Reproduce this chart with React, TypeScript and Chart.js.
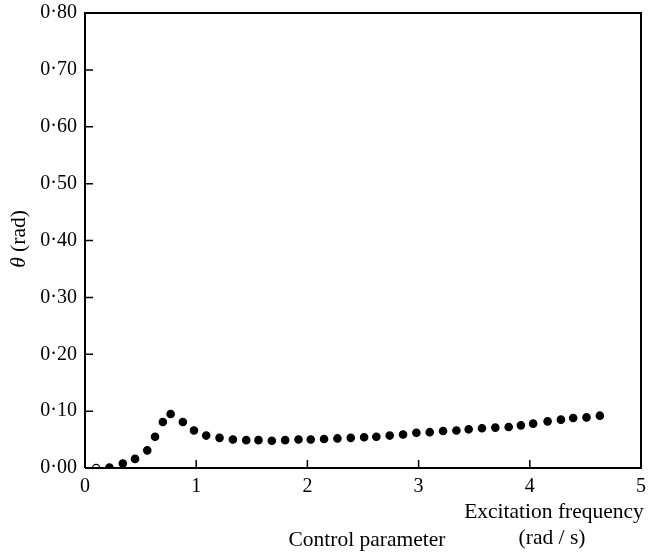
import React, { useEffect, useRef } from "react";
import { Chart, registerables } from "chart.js";

Chart.register(...registerables);

const frequency: number[] = [
  0.10, 0.22, 0.34, 0.45, 0.56, 0.63, 0.70, 0.77, 0.88, 0.98, 1.09, 1.21, 1.33, 1.45,
  1.56, 1.68, 1.80, 1.92, 2.03, 2.15, 2.27, 2.39, 2.51, 2.62, 2.74, 2.86, 2.98, 3.10,
  3.22, 3.34, 3.45, 3.57, 3.69, 3.81, 3.92, 4.03, 4.16, 4.28, 4.39, 4.51, 4.63,
];
const theta: number[] = [
  0.000, 0.001, 0.008, 0.016, 0.031, 0.055, 0.081, 0.095, 0.081, 0.066, 0.057, 0.053,
  0.050, 0.049, 0.049, 0.048, 0.049, 0.050, 0.050, 0.051, 0.052, 0.053, 0.054, 0.055,
  0.057, 0.059, 0.062, 0.063, 0.065, 0.066, 0.068, 0.070, 0.071, 0.072, 0.075, 0.078,
  0.082, 0.085, 0.088, 0.089, 0.092,
];
const xTicks: number[] = [0, 1, 2, 3, 4, 5];
const yTicks: number[] = [0, 0.1, 0.2, 0.3, 0.4, 0.5, 0.6, 0.7, 0.8];
const yAxisTitleItalic = "θ";
const yAxisTitleRest = " (rad)";
const xAxisTitle = "Control parameter";
const xNoteLine1 = "Excitation frequency";
const xNoteLine2 = "(rad / s)";

const FONT = "'Liberation Serif', 'Times New Roman', serif";

const decorPlugin = {
  id: "decor",
  afterDraw(chart: any) {
    const { ctx, chartArea, scales } = chart;
    const { left, right, top, bottom } = chartArea;
    ctx.save();
    ctx.strokeStyle = "#000";
    ctx.lineWidth = 2;
    ctx.beginPath();
    ctx.moveTo(left, bottom);
    ctx.lineTo(left, top);
    ctx.lineTo(right, top);
    ctx.lineTo(right, bottom);
    ctx.lineTo(left, bottom);
    ctx.stroke();
    ctx.lineWidth = 1.5;
    ctx.beginPath();
    yTicks.forEach((v) => {
      const y = scales.y.getPixelForValue(v);
      ctx.moveTo(left, y);
      ctx.lineTo(left + 8, y);
    });
    xTicks.forEach((v) => {
      const x = scales.x.getPixelForValue(v);
      ctx.moveTo(x, bottom);
      ctx.lineTo(x, bottom - 8);
    });
    ctx.stroke();
    ctx.fillStyle = "#000";
    ctx.translate(19, 239);
    ctx.rotate(-Math.PI / 2);
    ctx.textBaseline = "middle";
    ctx.font = `italic 21.5px ${FONT}`;
    const w1 = ctx.measureText(yAxisTitleItalic).width;
    ctx.font = `21.5px ${FONT}`;
    const w2 = ctx.measureText(yAxisTitleRest).width;
    const start = -(w1 + w2) / 2;
    ctx.textAlign = "left";
    ctx.font = `italic 21.5px ${FONT}`;
    ctx.fillText(yAxisTitleItalic, start, 0);
    ctx.font = `21.5px ${FONT}`;
    ctx.fillText(yAxisTitleRest, start + w1, 0);
    ctx.restore();

    ctx.save();
    ctx.fillStyle = "#000";
    ctx.font = `21.5px ${FONT}`;
    ctx.textBaseline = "middle";
    ctx.textAlign = "center";
    ctx.fillText(xAxisTitle, 367, 540);
    ctx.fillText(xNoteLine1, 554, 512);
    ctx.fillText(xNoteLine2, 552, 538);
    ctx.restore();
  },
};

export default function App() {
  const ref = useRef<HTMLCanvasElement | null>(null);
  useEffect(() => {
    if (!ref.current) return;
    const bg = frequency.map((_, i) => (i === 0 ? "#fff" : "#000"));
    const chart = new Chart(ref.current, {
      type: "scatter",
      data: {
        datasets: [
          {
            data: frequency.map((f, i) => ({ x: f, y: theta[i] })),
            pointStyle: "circle",
            pointRadius: 3.7,
            pointBackgroundColor: bg,
            pointBorderColor: "#000",
            pointBorderWidth: 1.2,
            showLine: false,
          },
        ],
      },
      options: {
        animation: false,
        responsive: false,
        maintainAspectRatio: false,
        layout: { padding: { left: 0, right: 7, top: 13, bottom: 0 } },
        plugins: { legend: { display: false }, tooltip: { enabled: false } },
        scales: {
          x: {
            type: "linear",
            min: 0,
            max: 5,
            afterBuildTicks: (s: any) => {
              s.ticks = xTicks.map((v) => ({ value: v }));
            },
            afterFit: (s: any) => {
              s.height = 84;
              s.paddingLeft = 0;
              s.paddingRight = 0;
            },
            grid: { display: false, drawTicks: false },
            border: { display: false },
            ticks: {
              color: "#000",
              padding: 7,
              maxRotation: 0,
              font: { family: FONT, size: 20 },
              callback: (v: any) => String(v),
            },
          },
          y: {
            type: "linear",
            min: 0,
            max: 0.8,
            afterBuildTicks: (s: any) => {
              s.ticks = yTicks.map((v) => ({ value: v }));
            },
            afterFit: (s: any) => {
              s.width = 85;
              s.paddingTop = 0;
              s.paddingBottom = 0;
            },
            grid: { display: false, drawTicks: false },
            border: { display: false },
            ticks: {
              color: "#000",
              padding: 8,
              font: { family: FONT, size: 20 },
              callback: (v: any) => Number(v).toFixed(2).replace(".", "·"),
            },
          },
        },
      },
      plugins: [decorPlugin],
    });
    return () => chart.destroy();
  }, []);
  return (
    <div style={{ position: "fixed", left: 0, top: 0, width: 648, height: 552, background: "#fff" }}>
      <canvas ref={ref} width={648} height={552} style={{ width: 648, height: 552 }} />
    </div>
  );
}
